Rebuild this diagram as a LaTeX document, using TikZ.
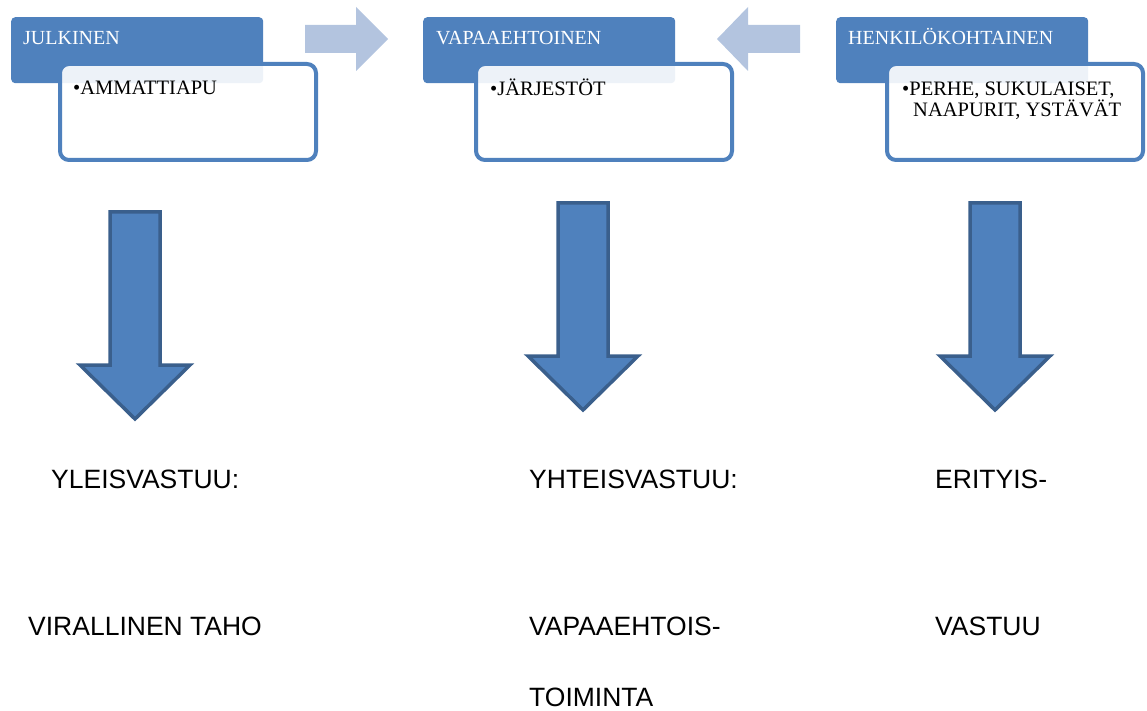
\documentclass[tikz,border=0pt]{standalone}
\usepackage{fontspec}
\setmainfont{Liberation Serif}
\newfontfamily\arialfont{Liberation Sans}

\definecolor{hdrblue}{HTML}{4F81BD}
\definecolor{arrowedge}{HTML}{3A5F8C}
\definecolor{paleblue}{HTML}{B3C4DF}

\tikzset{
  hdrbox/.style={fill=hdrblue, rounded corners=4pt, minimum width=252pt, minimum height=66pt, anchor=north west, inner sep=0pt},
  itembox/.style={draw=hdrblue, line width=4pt, fill=white, fill opacity=0.9, rounded corners=9pt, minimum width=256pt, minimum height=96pt, anchor=north west, inner sep=0pt},
  hdrtext/.style={text=white, font=\fontsize{20}{22}\selectfont, anchor=base west, inner sep=0pt},
  itemtext/.style={text=black, font=\fontsize{20.5}{22}\selectfont, anchor=base west, inner sep=0pt},
  resptext/.style={text=black, font=\arialfont\fontsize{26.5}{30}\selectfont, anchor=base west, inner sep=0pt},
  bigarrow/.style={fill=hdrblue, draw=arrowedge, line width=3.5pt, line join=miter},
  flowarrow/.style={fill=paleblue},
}

\begin{document}
\begin{tikzpicture}[x=1pt, y=-1pt]
  \useasboundingbox (0,0) rectangle (1147,711);

  % the three groups
  \node[hdrbox] (julkinen) at (11,17) {};
  \node[hdrbox] (vapaa) at (423,17) {};
  \node[hdrbox] (henk) at (836,17) {};
  \node[hdrtext] (julkinen-t) at (23,45) {JULKINEN};
  \node[hdrtext] (vapaa-t) at (436,45) {VAPAAEHTOINEN};
  \node[hdrtext] (henk-t) at (848,45) {HENKILÖKOHTAINEN};

  \node[itembox] (julkinen-box) at (58,62) {};
  \node[itembox] (vapaa-box) at (474,62) {};
  \node[itembox] (henk-box) at (885,62) {};
  \node[itemtext] (julkinen-list) at (73,95) {\textbullet AMMATTIAPU};
  \node[itemtext] (vapaa-list) at (490,96) {\textbullet JÄRJESTÖT};
  \node[itemtext] (henk-list) at (902,96) {\textbullet PERHE, SUKULAISET,};
  \node[itemtext] (henk-list2) at (913,117) {NAAPURIT, YSTÄVÄT};

  % pale arrows between the groups
  \fill[flowarrow] (305,25) -- (356,25) -- (356,7) -- (388,39) -- (356,71) -- (356,53) -- (305,53) -- cycle;
  \fill[flowarrow] (800,25) -- (748,25) -- (748,7) -- (717,39) -- (748,71) -- (748,53) -- (800,53) -- cycle;

  % down arrows
  \foreach \cx/\ty in {135/212, 583/203, 995/203}
    \draw[bigarrow] (\cx-25,\ty) -- (\cx+25,\ty) -- (\cx+25,\ty+153) -- (\cx+55,\ty+153)
      -- (\cx,\ty+207) -- (\cx-55,\ty+153) -- (\cx-25,\ty+153) -- cycle;

  % responsibilities
  \node[resptext] (yleis) at (51,488) {YLEISVASTUU:};
  \node[resptext] (virallinen) at (28,635) {VIRALLINEN TAHO};
  \node[resptext] (yhteis) at (529,488) {YHTEISVASTUU:};
  \node[resptext] (vapaaeht) at (529,635) {VAPAAEHTOIS-};
  \node[resptext] (toiminta) at (529,706) {TOIMINTA};
  \node[resptext] (erityis) at (935,488) {ERITYIS-};
  \node[resptext] (vastuu) at (935,635) {VASTUU};
\end{tikzpicture}
\end{document}
